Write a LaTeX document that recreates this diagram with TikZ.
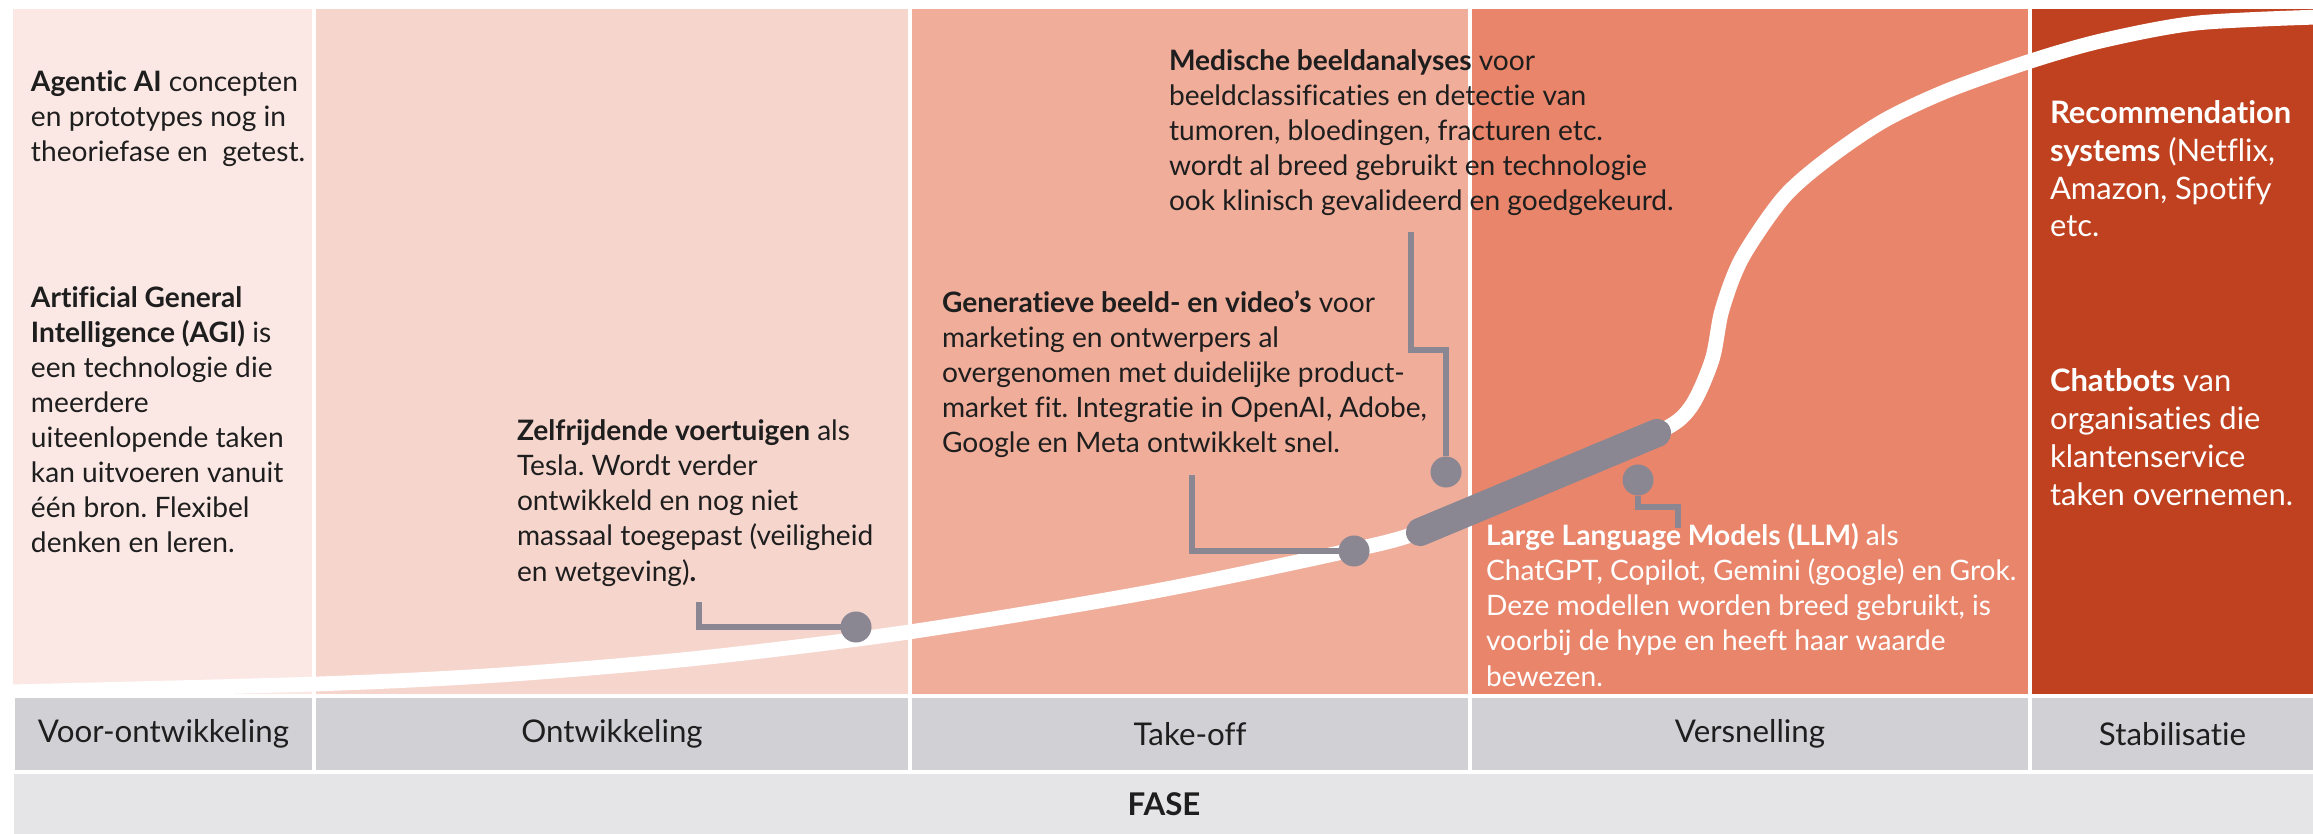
\documentclass[tikz,border=0pt]{standalone}
\usepackage{fontspec}
\setmainfont{Lato}[Ligatures=CommonOff]
\usetikzlibrary{positioning}
\frenchspacing

\definecolor{stageA}{HTML}{FBE8E4}
\definecolor{stageB}{HTML}{F6D5CC}
\definecolor{stageC}{HTML}{F0AD9A}
\definecolor{stageD}{HTML}{E8856A}
\definecolor{stageE}{HTML}{BF411F}
\definecolor{phasegray}{HTML}{D1D0D5}
\definecolor{fasegray}{HTML}{E5E5E8}
\definecolor{markgray}{HTML}{8A8793}
\definecolor{ink}{HTML}{1E1E1E}

\begin{document}
\begin{tikzpicture}[x=0.01cm, y=-0.01cm,
    every node/.style={inner sep=0pt, outer sep=0pt},
    stage/.style={rectangle, anchor=north west, minimum height=6.85cm},
    phase/.style={rectangle, fill=phasegray, minimum height=0.72cm, text=ink,
                  font=\fontsize{8.9}{10}\selectfont},
    % base west of a multi-line node sits on its last line
    blurb/.style={anchor=base west, align=left, text=ink, font=\fontsize{8}{9.96}\selectfont},
    bigblurb/.style={blurb, text=white, font=\fontsize{8.8}{10.8}\selectfont},
    curve/.style={white, line width=4.2pt},
    pinline/.style={draw=markgray, line width=1.6pt},
    dot/.style={circle, fill=markgray, minimum size=0.31cm}
  ]
  \useasboundingbox (0,0) rectangle (2313,834);

  % stage columns
  \node[stage, fill=stageA, minimum width=2.99cm] (colA) at (13,9) {};
  \node[stage, fill=stageB, minimum width=5.92cm] (colB) at (316,9) {};
  \node[stage, fill=stageC, minimum width=5.56cm] (colC) at (912,9) {};
  \node[stage, fill=stageD, minimum width=5.56cm] (colD) at (1472,9) {};
  \node[stage, fill=stageE, minimum width=2.81cm] (colE) at (2032,9) {};

  % adoption curve
  \draw[curve] plot[smooth, tension=0.5] coordinates {(5,692) (316,684) (500,675) (700,658)
    (909,632) (1150,592) (1343,552) (1420,532) (1540,484) (1657,433) (1690,408) (1712,360)
    (1722,310) (1742,258) (1784,197) (1830,157) (1885,120) (1949,90) (2034,60) (2105,40)
    (2197,23) (2320,17)};

  % LLM bar on the curve
  \coordinate (barA) at (1420,532);
  \coordinate (barB) at (1657,433);
  \draw[draw=markgray, line width=8pt, line cap=round] (barA) -- (barB);

  % phase row
  \node[phase, minimum width=2.97cm] (pA) at (163.5,734) {Voor-ontwikkeling};
  \node[phase, minimum width=5.92cm] (pB) at (612,734) {Ontwikkeling};
  \node[phase, minimum width=5.56cm] (pC) at (1190,734) {Take-off};
  \node[phase, minimum width=5.56cm] (pD) at (1750,734) {Versnelling};
  \node[phase, minimum width=2.81cm] (pE) at (2172.5,734) {Stabilisatie};
  \node[rectangle, fill=fasegray, minimum width=22.98cm, minimum height=0.6cm, text=ink,
        font=\bfseries\fontsize{8.9}{10}\selectfont] (fase) at (1164,804) {FASE};

  % text column 1
  \node[blurb] (agentic) at (31,162)
    {\textbf{Agentic AI} concepten\\en prototypes nog in\\theoriefase en\ \ getest.};
  \node[blurb] (agi) at (31,553)
    {\textbf{Artificial General}\\\textbf{Intelligence (AGI)} is\\een technologie die\\meerdere\\uiteenlopende taken\\kan uitvoeren vanuit\\één bron. Flexibel\\denken en leren.};

  % callouts along the curve
  \node[blurb] (zelf) at (517,581)
    {\textbf{Zelfrijdende voertuigen} als\\Tesla. Wordt verder\\ontwikkeld en nog niet\\massaal toegepast (veiligheid\\en wetgeving)\textbf{.}};
  \node[blurb] (gen) at (942,453)
    {\textbf{Generatieve beeld- en video’s} voor\\marketing en ontwerpers al\\overgenomen met duidelijke product-\\market fit. Integratie in OpenAI, Adobe,\\Google en Meta ontwikkelt snel.};
  \node[blurb] (med) at (1169,211)
    {\textbf{Medische beeldanalyses} voor\\beeldclassificaties en detectie van\\tumoren, bloedingen, fracturen etc.\\wordt al breed gebruikt en technologie\\ook klinisch gevalideerd en goedgekeurd.};
  \node[blurb, text=white] (llm) at (1486,686)
    {\textbf{Large Language Models (LLM)} als\\ChatGPT, Copilot, Gemini (google) en Grok.\\Deze modellen worden breed gebruikt, is\\voorbij de hype en heeft haar waarde\\bewezen.};

  % text column 5
  \node[bigblurb] (recsys) at (2050,237)
    {\textbf{Recommendation}\\\textbf{systems} (Netflix,\\Amazon, Spotify\\etc.};
  \node[bigblurb] (chatbots) at (2050,505)
    {\textbf{Chatbots} van\\organisaties die\\klantenservice\\taken overnemen.};

  % pins
  \node[dot] (zelfDot) at (856,627) {};
  \node[dot] (genDot) at (1354,551) {};
  \node[dot] (medDot) at (1446,472) {};
  \node[dot] (llmDot) at (1638,480) {};

  \coordinate (zelfEnd) at (699,602);
  \coordinate (genEnd) at (1192,475);
  \coordinate (medEnd) at (1411,232);
  \coordinate (medKnee) at (1411,350);
  \coordinate (llmKnee) at (1678,507);
  \coordinate (llmEnd) at (1678,528);

  \draw[pinline] (zelfEnd) |- (zelfDot);
  \draw[pinline] (genEnd) |- (genDot);
  \draw[pinline] (medEnd) -- (medKnee) -| (medDot);
  \draw[pinline] (llmDot) |- (llmKnee) -- (llmEnd);
\end{tikzpicture}
\end{document}
